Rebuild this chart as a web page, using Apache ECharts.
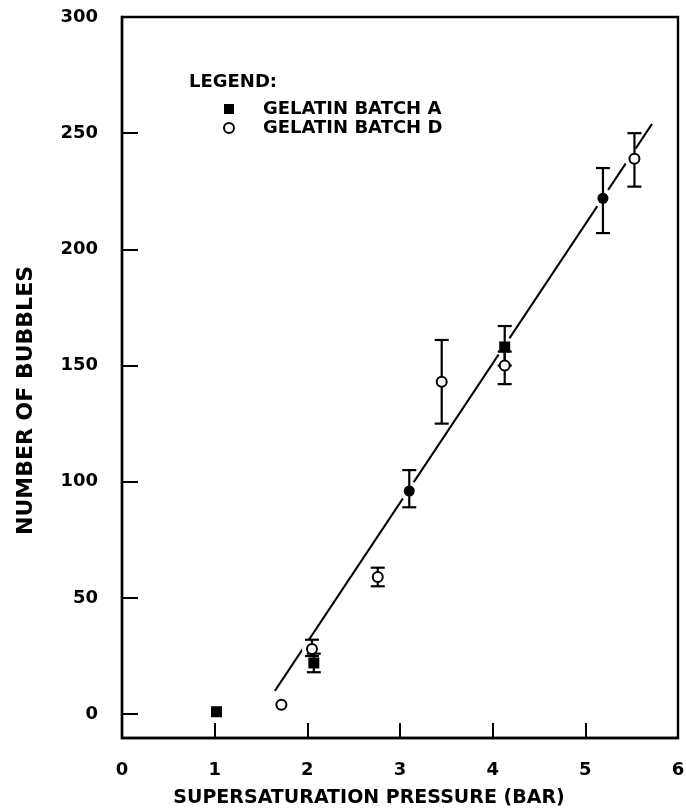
<!DOCTYPE html>
<html>
<head>
<meta charset="utf-8">
<script src="https://cdn.jsdelivr.net/npm/echarts@6/dist/echarts.min.js"></script>
<style>
  html, body { margin: 0; padding: 0; background: #fff; }
  #chart { width: 686px; height: 808px; }
</style>
</head>
<body>
<div id="chart"></div>
<script>
// Axis ticks
const xTicks = [0, 1, 2, 3, 4, 5, 6];
const yTicks = [0, 50, 100, 150, 200, 250, 300];

// Gelatin batch A: [pressure (bar), bubbles]
const batchA = [[1.02, 1], [2.07, 22], [3.1, 96], [4.13, 158], [5.19, 222]];
const batchASymbols = ['rect', 'rect', 'circle', 'rect', 'circle'];
// Batch A error bars: [pressure, low, high]
const batchAErr = [[2.07, 18, 26], [3.1, 89, 105], [4.13, 150, 167], [5.19, 207, 235]];

// Gelatin batch D: [pressure (bar), bubbles]
const batchD = [[1.72, 4], [2.05, 28], [2.76, 59], [3.45, 143], [4.13, 150], [5.53, 239]];
// Batch D error bars: [pressure, low, high]
const batchDErr = [[2.05, 25, 32], [2.76, 55, 63], [3.45, 125, 161], [4.13, 142, 156], [5.53, 227, 250]];

// Fitted straight line
const fitLine = [[1.65, 10], [5.72, 254]];

const FONT = 'DejaVu Sans';
const INK = '#000';

function errorBarItem(params, api) {
  const x = api.value(0);
  const lo = api.coord([x, api.value(1)]);
  const hi = api.coord([x, api.value(2)]);
  const cap = 7;
  const style = { stroke: INK, lineWidth: 2.2, fill: null };
  return {
    type: 'group',
    children: [
      { type: 'line', shape: { x1: lo[0], y1: lo[1], x2: hi[0], y2: hi[1] }, style },
      { type: 'line', shape: { x1: hi[0] - cap, y1: hi[1], x2: hi[0] + cap, y2: hi[1] }, style },
      { type: 'line', shape: { x1: lo[0] - cap, y1: lo[1], x2: lo[0] + cap, y2: lo[1] }, style }
    ]
  };
}

const chart = echarts.init(document.getElementById('chart'));
chart.setOption({
  animation: false,
  backgroundColor: '#fff',
  title: {
    text: 'LEGEND:',
    left: 189,
    top: 73,
    padding: 0,
    textStyle: { fontFamily: FONT, fontWeight: 'bold', fontSize: 18, color: INK }
  },
  legend: {
    orient: 'vertical',
    left: 223,
    top: 100,
    padding: 0,
    itemGap: 1,
    itemWidth: 10,
    itemHeight: 10,
    selectedMode: false,
    data: [
      { name: 'GELATIN BATCH A', icon: 'rect' },
      { name: 'GELATIN BATCH D', icon: 'circle' }
    ],
    textStyle: { fontFamily: FONT, fontWeight: 'bold', fontSize: 18, lineHeight: 18, color: INK, padding: [0, 0, 0, 24] }
  },
  grid: {
    left: 122,
    right: 8,
    top: 17,
    bottom: 70,
    containLabel: false,
    outerBoundsMode: 'none',
    show: true,
    borderColor: INK,
    borderWidth: 2.4
  },
  xAxis: {
    type: 'value',
    min: xTicks[0],
    max: xTicks[xTicks.length - 1],
    interval: 1,
    name: 'SUPERSATURATION PRESSURE (BAR)',
    nameLocation: 'middle',
    nameGap: 51,
    nameTextStyle: { fontFamily: FONT, fontWeight: 'bold', fontSize: 19, color: INK, padding: [0, 62, 0, 0] },
    axisLine: { onZero: false, lineStyle: { color: INK, width: 2.4 } },
    axisTick: { inside: true, length: 15, lineStyle: { color: INK, width: 2 } },
    axisLabel: { margin: 23, fontFamily: FONT, fontWeight: 'bold', fontSize: 18, color: INK },
    splitLine: { show: false }
  },
  yAxis: {
    type: 'value',
    min: -10.3,
    max: yTicks[yTicks.length - 1],
    name: 'NUMBER OF BUBBLES',
    nameLocation: 'middle',
    nameGap: 85,
    nameTextStyle: { fontFamily: FONT, fontWeight: 'bold', fontSize: 22, color: INK, padding: [0, 46, 0, 0] },
    axisLine: { onZero: false, lineStyle: { color: INK, width: 2.4 } },
    axisTick: { inside: true, length: 16, customValues: yTicks, lineStyle: { color: INK, width: 2 } },
    axisLabel: { margin: 24, customValues: yTicks, fontFamily: FONT, fontWeight: 'bold', fontSize: 18, color: INK },
    splitLine: { show: false }
  },
  series: [
    {
      name: 'fit',
      type: 'line',
      data: fitLine,
      symbol: 'none',
      lineStyle: { color: INK, width: 2 },
      silent: true,
      z: 1
    },
    {
      // white clearance around every marker, so the fitted line breaks at the points
      name: 'clearance',
      type: 'scatter',
      data: batchA.concat(batchD),
      symbol: 'circle',
      symbolSize: 20,
      itemStyle: { color: '#fff', opacity: 1 },
      silent: true,
      z: 2
    },
    {
      name: 'errA',
      type: 'custom',
      renderItem: errorBarItem,
      data: batchAErr,
      encode: { x: 0, y: [1, 2] },
      z: 3
    },
    {
      name: 'errD',
      type: 'custom',
      renderItem: errorBarItem,
      data: batchDErr,
      encode: { x: 0, y: [1, 2] },
      z: 3
    },
    {
      name: 'GELATIN BATCH A',
      type: 'scatter',
      data: batchA.map((p, i) => ({ value: p, symbol: batchASymbols[i] })),
      symbolSize: 11,
      itemStyle: { color: INK, opacity: 1 },
      z: 4
    },
    {
      name: 'GELATIN BATCH D',
      type: 'scatter',
      data: batchD,
      symbol: 'circle',
      symbolSize: 10,
      itemStyle: { color: '#fff', borderColor: INK, borderWidth: 2, opacity: 1 },
      z: 5
    }
  ]
});
</script>
</body>
</html>
